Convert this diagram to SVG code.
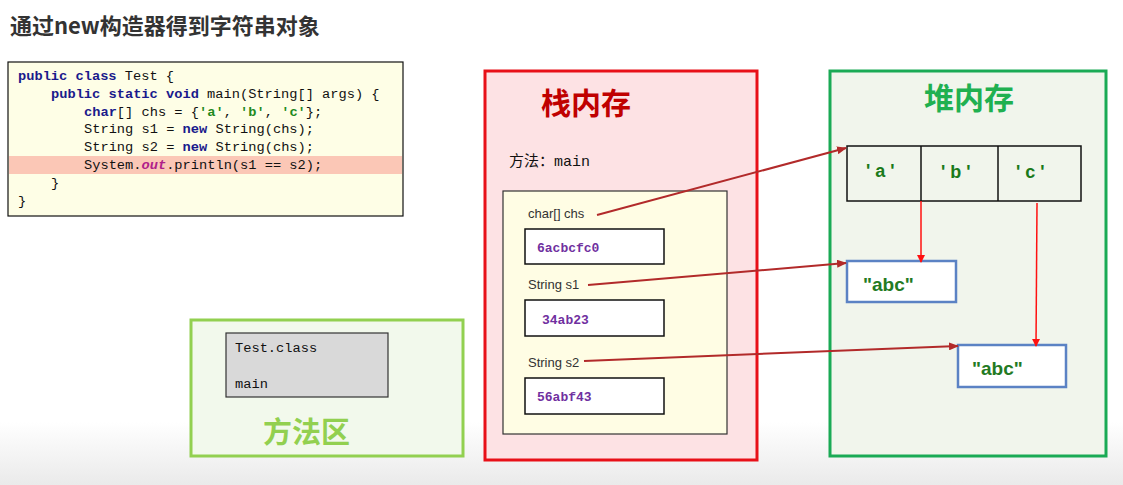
<svg xmlns="http://www.w3.org/2000/svg" width="1123" height="485" viewBox="0 0 1123 485">
<defs>
<linearGradient id="bg" x1="0" y1="0" x2="0" y2="1">
<stop offset="0" stop-color="#ffffff"/>
<stop offset="0.87" stop-color="#ffffff"/>
<stop offset="1" stop-color="#eaeaea"/>
</linearGradient>
<marker id="ad" markerWidth="10" markerHeight="8" refX="9" refY="4" orient="auto" markerUnits="userSpaceOnUse">
<path d="M0,0 L10,4 L0,8 z" fill="#b22a2a"/>
</marker>
<marker id="ar" markerWidth="8" markerHeight="8" refX="7" refY="4" orient="auto" markerUnits="userSpaceOnUse">
<path d="M0,0 L8,4 L0,8 z" fill="#ff1010"/>
</marker>
</defs>
<style>
.title{font-family:"Noto Sans CJK SC","Noto Sans",sans-serif;font-weight:bold;}
.code{font-family:"Liberation Mono","DejaVu Sans Mono",monospace;font-size:13.7px;fill:#111;}
.kw{fill:#1a1a8c;font-weight:bold;}
.str{fill:#1e8a1e;font-weight:bold;}
.out{fill:#b0208a;font-weight:bold;font-style:italic;}
.lbl{font-family:"Liberation Sans","Noto Sans",sans-serif;font-size:13px;fill:#333;}
.addr{font-family:"Liberation Mono","DejaVu Sans Mono",monospace;font-size:13px;font-weight:bold;fill:#7030a0;}
.box{fill:#ffffff;stroke:#111;stroke-width:1.5;}
.ch{font-family:"Liberation Sans","Noto Sans",sans-serif;font-size:18px;font-weight:bold;fill:#1a7a1a;}
.abc{font-family:"Liberation Sans","Noto Sans",sans-serif;font-size:19px;font-weight:bold;fill:#237a23;}
.sbox{fill:#ffffff;stroke:#5b82c4;stroke-width:2.5;}
.c1{stroke:#b22a2a;stroke-width:2;fill:none;}
.c2{stroke:#ff1010;stroke-width:1.5;fill:none;}
</style>
<rect x="0" y="0" width="1123" height="485" fill="url(#bg)"/>
<text x="10" y="34" class="title" font-size="22" fill="#333">通过new构造器得到字符串对象</text>

<g id="code">
<rect x="8" y="62" width="395" height="154" fill="#fefee6" stroke="#111" stroke-width="1.2"/>
<rect x="9" y="156" width="393" height="18" fill="#fbc7b6"/>
<text class="code" x="18" y="80"><tspan class="kw">public class</tspan> Test {</text>
<text class="code" x="51" y="98"><tspan class="kw">public static void</tspan> main(String[] args) {</text>
<text class="code" x="84" y="116"><tspan class="kw">char</tspan>[] chs = {<tspan class="str">'a'</tspan>, <tspan class="str">'b'</tspan>, <tspan class="str">'c'</tspan>};</text>
<text class="code" x="84" y="133">String s1 = <tspan class="kw">new</tspan> String(chs);</text>
<text class="code" x="84" y="151">String s2 = <tspan class="kw">new</tspan> String(chs);</text>
<text class="code" x="84" y="169">System.<tspan class="out">out</tspan>.println(s1 == s2);</text>
<text class="code" x="51" y="187">}</text>
<text class="code" x="18" y="205">}</text>
</g>

<g id="method-area">
<rect x="191" y="320" width="272" height="136" fill="#f2f9ec" stroke="#92d050" stroke-width="3"/>
<rect x="226" y="333" width="162" height="64" fill="#d9d9d9" stroke="#333" stroke-width="1.2"/>
<text class="code" x="235" y="352" font-size="13px">Test.class</text>
<text class="code" x="235" y="388" font-size="13px">main</text>
<text x="263" y="443" class="title" font-size="29" fill="#92d050">方法区</text>
</g>

<g id="stack">
<rect x="485" y="71" width="272" height="389" fill="#fde2e4" stroke="#e81018" stroke-width="3"/>
<text x="541" y="114" class="title" font-size="30" fill="#c00000">栈内存</text>
<text x="509" y="166" font-family="'Noto Sans CJK SC','Noto Sans',sans-serif" font-size="15" fill="#111">方法：<tspan font-family="'Liberation Mono',monospace">main</tspan></text>
<rect x="503" y="191" width="224" height="243" fill="#fffde4" stroke="#333" stroke-width="1.2"/>
<text class="lbl" x="528" y="218">char[]  chs</text>
<rect class="box" x="525" y="229" width="139" height="35"/>
<text class="addr" x="537" y="252">6acbcfc0</text>
<text class="lbl" x="528" y="289">String  s1</text>
<rect class="box" x="525" y="300" width="139" height="36"/>
<text class="addr" x="542" y="324">34ab23</text>
<text class="lbl" x="528" y="367">String  s2</text>
<rect class="box" x="525" y="378" width="139" height="36"/>
<text class="addr" x="537" y="401">56abf43</text>
</g>

<g id="heap">
<rect x="830" y="71" width="276" height="385" fill="#f1f5ec" stroke="#1aaa55" stroke-width="3"/>
<text x="924" y="109" class="title" font-size="30" fill="#20b050">堆内存</text>
<g id="array">
<rect x="847" y="146" width="234" height="55" fill="none" stroke="#111" stroke-width="1.5"/>
<line x1="921" y1="146" x2="921" y2="201" stroke="#111" stroke-width="1.5"/>
<line x1="998" y1="146" x2="998" y2="201" stroke="#111" stroke-width="1.5"/>
<text class="ch" x="866" y="177">' a '</text>
<text class="ch" x="941" y="178">' b '</text>
<text class="ch" x="1016" y="178">' c '</text>
</g>
<g id="abc1">
<rect class="sbox" x="847" y="261" width="109" height="41"/>
<text class="abc" x="863" y="291">"abc"</text>
</g>
<g id="abc2">
<rect class="sbox" x="958" y="345" width="108" height="42"/>
<text class="abc" x="972" y="375">"abc"</text>
</g>
</g>

<g id="connectors">
<line class="c1" x1="597" y1="215" x2="846" y2="148" marker-end="url(#ad)"/>
<line class="c1" x1="588" y1="285" x2="846" y2="263" marker-end="url(#ad)"/>
<line class="c1" x1="584" y1="361" x2="958" y2="346" marker-end="url(#ad)"/>
<line class="c2" x1="921" y1="201" x2="921" y2="262" marker-end="url(#ar)"/>
<line class="c2" x1="1037" y1="203" x2="1036" y2="346" marker-end="url(#ar)"/>
</g>
</svg>
